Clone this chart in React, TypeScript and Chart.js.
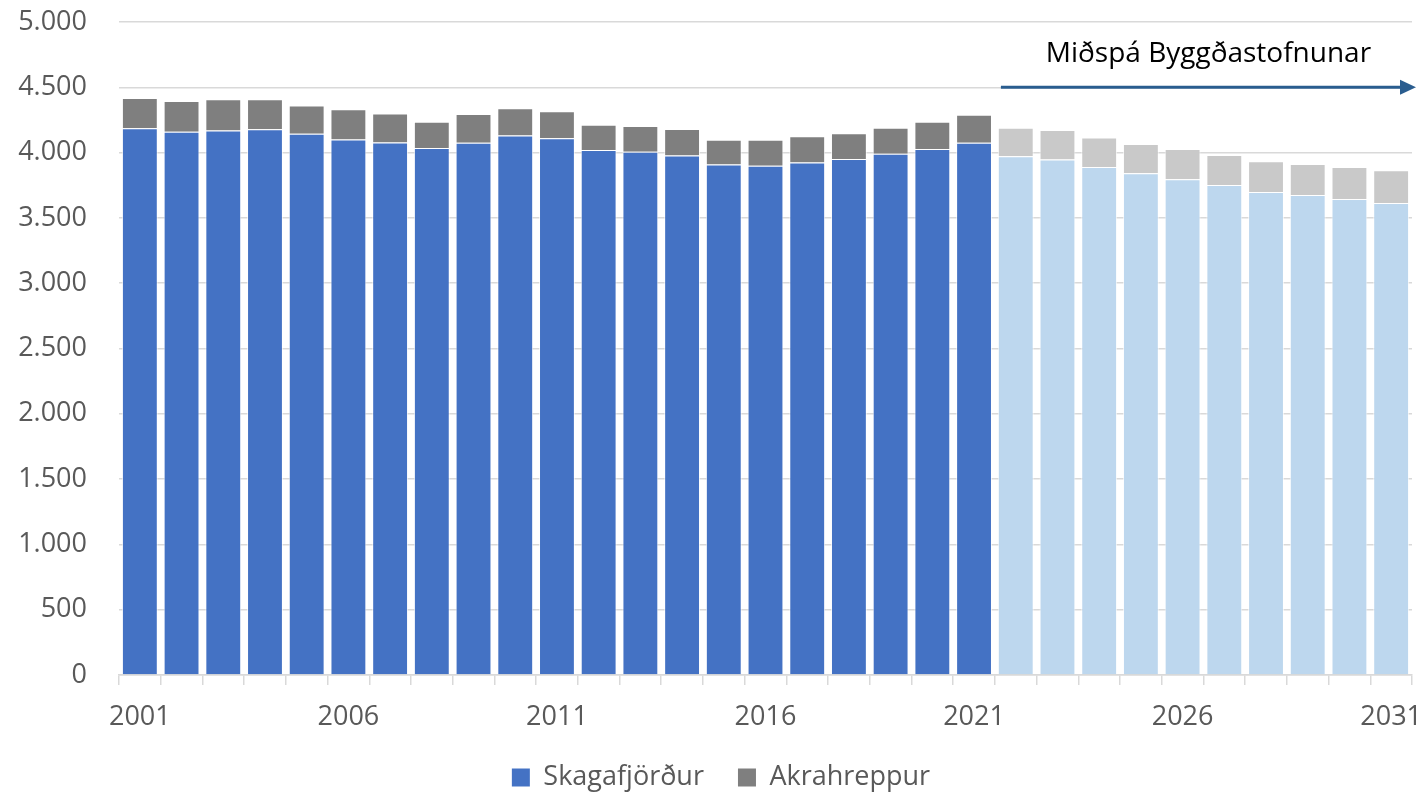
import React, { useEffect, useRef } from "react";
import { Chart, registerables } from "chart.js";

Chart.register(...registerables);

const years: string[] = [
  "2001", "2002", "2003", "2004", "2005", "2006", "2007", "2008", "2009", "2010",
  "2011", "2012", "2013", "2014", "2015", "2016", "2017", "2018", "2019", "2020",
  "2021", "2022", "2023", "2024", "2025", "2026", "2027", "2028", "2029", "2030", "2031",
];

const skagafjordur: number[] = [
  4186, 4160, 4170, 4178, 4145, 4100, 4078, 4035, 4076, 4130,
  4109, 4020, 4007, 3977, 3908, 3900, 3925, 3951, 3992, 4028,
  4076, 3973, 3948, 3890, 3841, 3795, 3752, 3698, 3675, 3645, 3614,
];

const akrahreppur: number[] = [
  232, 235, 238, 230, 215, 231, 222, 202, 219, 209,
  207, 194, 197, 204, 191, 199, 200, 197, 199, 209,
  214, 218, 225, 225, 225, 233, 230, 235, 238, 245, 250,
];

const forecastStart = "2022";
const forecastLabel = "Miðspá Byggðastofnunar";
const forecastArrowValue = 4500;
const yTicks: number[] = [0, 500, 1000, 1500, 2000, 2500, 3000, 3500, 4000, 4500, 5000];
const xLabelYears: string[] = ["2001", "2006", "2011", "2016", "2021", "2026", "2031"];

const FONT = '"Open Sans", "DejaVu Sans", sans-serif';
const LEGEND_PAD = 34;
const X_AXIS_HEIGHT = 55;
const LEGEND_SHIFT = 30;

export default function App() {
  const canvasRef = useRef<HTMLCanvasElement | null>(null);

  useEffect(() => {
    const canvas = canvasRef.current;
    if (!canvas) return;
    const fIdx = years.indexOf(forecastStart);

    const colorFor = (dark: string, light: string) => (ctx: any) =>
      typeof ctx.dataIndex === "number" && ctx.dataIndex >= fIdx ? light : dark;

    const legendShift = {
      id: "legendShift",
      afterLayout(chart: any) {
        if (chart.legend) chart.legend.left += LEGEND_SHIFT;
      },
    };

    const arrowPlugin = {
      id: "forecastArrow",
      afterDatasetsDraw(chart: any) {
        const { ctx, chartArea, scales } = chart;
        const xs = scales.x;
        const ys = scales.y;
        const boundary = (xs.getPixelForValue(fIdx - 1) + xs.getPixelForValue(fIdx)) / 2;
        const x0 = boundary + 6;
        const x1 = chartArea.right + 4;
        const y = ys.getPixelForValue(forecastArrowValue);
        ctx.save();
        ctx.strokeStyle = "#2A5D8F";
        ctx.fillStyle = "#2A5D8F";
        ctx.lineWidth = 3;
        ctx.beginPath();
        ctx.moveTo(x0, y);
        ctx.lineTo(x1 - 14, y);
        ctx.stroke();
        ctx.beginPath();
        ctx.moveTo(x1, y);
        ctx.lineTo(x1 - 16, y - 7.5);
        ctx.lineTo(x1 - 16, y + 7.5);
        ctx.closePath();
        ctx.fill();
        ctx.fillStyle = "#000000";
        ctx.font = `28px ${FONT}`;
        ctx.textAlign = "center";
        ctx.textBaseline = "alphabetic";
        ctx.fillText(forecastLabel, (x0 + x1) / 2, y - 25);
        ctx.restore();
      },
    };

    const chart = new Chart(canvas, {
      type: "bar",
      data: {
        labels: years,
        datasets: [
          {
            label: "Skagafjörður",
            data: skagafjordur,
            backgroundColor: colorFor("#4472C4", "#BDD7EE"),
            borderColor: "rgba(255,255,255,0.7)",
            borderWidth: 1,
            barPercentage: 0.86,
            categoryPercentage: 1,
          },
          {
            label: "Akrahreppur",
            data: akrahreppur,
            backgroundColor: colorFor("#7F7F7F", "#C9C9C9"),
            borderColor: "rgba(255,255,255,0.7)",
            borderWidth: 1,
            barPercentage: 0.86,
            categoryPercentage: 1,
          },
        ],
      },
      options: {
        animation: false,
        responsive: true,
        maintainAspectRatio: false,
        layout: { padding: { top: 22, right: 14, left: 0, bottom: -7 } },
        plugins: {
          tooltip: { enabled: false },
          legend: {
            position: "bottom",
            labels: {
              font: { family: FONT, size: 27 },
              color: "#595959",
              boxWidth: 18,
              boxHeight: 18,
              padding: LEGEND_PAD,
              generateLabels(chart: any) {
                return chart.data.datasets.map((ds: any, i: number) => ({
                  text: ds.label,
                  fillStyle: i === 0 ? "#4472C4" : "#7F7F7F",
                  strokeStyle: "rgba(0,0,0,0)",
                  lineWidth: 0,
                  hidden: false,
                  datasetIndex: i,
                  fontColor: "#595959",
                }));
              },
            },
          },
        },
        scales: {
          x: {
            stacked: true,
            offset: true,
            afterFit(scale: any) {
              scale.height = X_AXIS_HEIGHT;
              scale.paddingLeft = 0;
              scale.paddingRight = 0;
            },
            grid: {
              offset: true,
              drawOnChartArea: false,
              drawTicks: true,
              tickLength: 10,
              color: "#D9D9D9",
              lineWidth: 1.5,
            },
            border: { display: true, color: "#D9D9D9", width: 1.5 },
            ticks: {
              autoSkip: false,
              maxRotation: 0,
              minRotation: 0,
              padding: 16,
              color: "#595959",
              font: { family: FONT, size: 27 },
              callback(_v: any, i: number) {
                return xLabelYears.includes(years[i]) ? years[i] : "";
              },
            },
          },
          y: {
            stacked: true,
            min: 0,
            max: 5000,
            afterFit(scale: any) {
              scale.width = 119;
              scale.paddingTop = 0;
              scale.paddingBottom = 0;
            },
            afterBuildTicks(scale: any) {
              scale.ticks = yTicks.map((v) => ({ value: v }));
            },
            grid: { color: "#D9D9D9", lineWidth: 1.5, drawTicks: false },
            border: { display: false },
            ticks: {
              padding: 32,
              color: "#595959",
              font: { family: FONT, size: 27 },
              callback(v: any) {
                return Number(v).toLocaleString("de-DE");
              },
            },
          },
        },
      },
      plugins: [legendShift, arrowPlugin],
    });

    return () => chart.destroy();
  }, []);

  return (
    <div style={{ position: "fixed", left: 0, top: 0, width: 1426, height: 794, background: "#fff" }}>
      <canvas ref={canvasRef} />
    </div>
  );
}
